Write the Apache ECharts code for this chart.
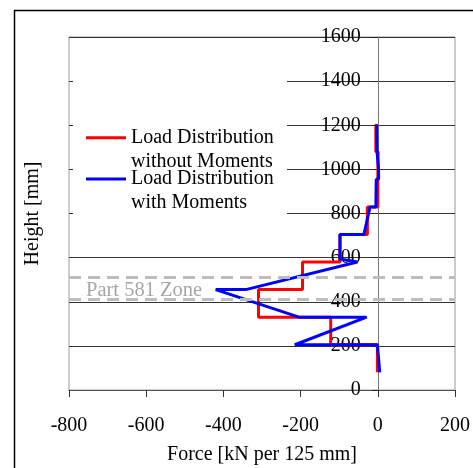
<!DOCTYPE html>
<html>
<head>
<meta charset="utf-8">
<script src="https://cdn.jsdelivr.net/npm/echarts@6/dist/echarts.min.js"></script>
<style>
  html, body { margin: 0; padding: 0; background: #fff; }
  #chart { width: 473px; height: 468px; }
</style>
</head>
<body>
<div id="chart"></div>
<script>
// Heights bounding each 125 mm load segment [mm]
const segmentEdges = [80, 205, 330, 455, 580, 705, 830, 955, 1080, 1205];
// Uniform force on each segment, without moments [kN per 125 mm]
const forceNoMoments = [-1, -122, -309, -195, -98, -27, 0, 1, -5];
// Force profile with moments: [force kN, height mm]
const forceWithMoments = [
  [5, 80], [-1, 205], [-215, 205], [-29, 330], [-204, 330], [-420, 455],
  [-342, 455], [-53, 580], [-98, 594], [-98, 705], [-36, 705], [-20, 830],
  [-5, 830], [-4, 955], [2, 955], [2, 1000], [-2, 1080], [-6, 1082], [-3, 1205]
];
// Limits of the Part 581 zone [mm]
const zoneLimits = [411, 511];
const zoneLabel = 'Part 581 Zone';
// Axis ranges and tick step
const forceRange = [-800, 200];
const heightRange = [0, 1600];
const tickStep = 200;

const seriesNames = ['Load Distribution\nwithout Moments', 'Load Distribution\nwith Moments'];
const FONT = '"Liberation Serif", "Times New Roman", serif';

// plot box in pixels
const GRID = { left: 69, right: 18, top: 37, bottom: 78 };
const CHART_W = 473;
// horizontal distance from the plot's left edge to force = 0
const zeroOffset = (CHART_W - GRID.left - GRID.right) *
  (0 - forceRange[0]) / (forceRange[1] - forceRange[0]);

// step outline: each segment is a vertical run at its force value
const stepData = [];
forceNoMoments.forEach((v, i) => {
  stepData.push([v, segmentEdges[i]]);
  stepData.push([v, segmentEdges[i + 1]]);
});

const plainNumber = v => String(v);

const chart = echarts.init(document.getElementById('chart'), null, { renderer: 'canvas' });

const legendBase = {
  orient: 'vertical',
  left: 86,
  padding: 0,
  icon: 'rect',
  itemWidth: 40,
  itemHeight: 3,
  selectedMode: false,
  z: 10,
  // blank leading line keeps the first text line level with the sample line
  formatter: name => '\n' + name,
  textStyle: { fontFamily: FONT, fontSize: 20, color: '#000', lineHeight: 24 }
};

chart.setOption({
  animation: false,
  backgroundColor: '#fff',
  grid: Object.assign({
    show: true, borderColor: '#999', borderWidth: 1,
    outerBoundsMode: 'none', containLabel: false
  }, GRID),
  legend: [
    Object.assign({}, legendBase, { data: [seriesNames[0]], top: 101.7 }),
    Object.assign({}, legendBase, { data: [seriesNames[1]], top: 143 })
  ],
  xAxis: {
    type: 'value',
    min: forceRange[0], max: forceRange[1], interval: tickStep,
    axisLine: { onZero: false, lineStyle: { color: '#555', width: 1 } },
    axisTick: { length: 7, lineStyle: { color: '#333' } },
    axisLabel: { margin: 26, fontSize: 20, lineHeight: 20, fontFamily: FONT, color: '#000', formatter: plainNumber },
    splitLine: { show: false },
    name: 'Force [kN per 125 mm]',
    nameLocation: 'middle',
    nameGap: 55,
    nameTextStyle: { fontSize: 20, lineHeight: 20, fontFamily: FONT, color: '#000' }
  },
  yAxis: [
    {
      type: 'value',
      position: 'left',
      offset: -zeroOffset,
      min: heightRange[0], max: heightRange[1], interval: tickStep,
      axisLine: { show: true, onZero: false, lineStyle: { color: '#777', width: 1 } },
      axisTick: { show: true, length: 6, lineStyle: { color: '#222' } },
      axisLabel: { margin: 17, fontSize: 20, lineHeight: 20, fontFamily: FONT, color: '#000', formatter: plainNumber },
      splitLine: { show: true, lineStyle: { color: '#333', width: 1 } }
    },
    {
      type: 'value',
      position: 'left',
      min: heightRange[0], max: heightRange[1], interval: tickStep,
      axisLine: { show: false, onZero: false },
      axisTick: { show: false },
      axisLabel: { show: false },
      splitLine: { show: false },
      name: 'Height [mm]',
      nameLocation: 'middle',
      nameGap: 26,
      nameTextStyle: { fontSize: 20, lineHeight: 20, fontFamily: FONT, color: '#000' }
    }
  ],
  series: [
    {
      name: seriesNames[0],
      type: 'line',
      yAxisIndex: 0,
      data: stepData,
      symbol: 'none',
      lineStyle: { color: '#ff0000', width: 3 },
      itemStyle: { color: '#ff0000' },
      z: 2,
      markLine: {
        silent: true,
        symbol: 'none',
        label: { show: false },
        lineStyle: { color: '#bdbdbd', width: 3, type: [12, 7] },
        data: zoneLimits.map(h => ({ yAxis: h }))
      }
    },
    {
      name: seriesNames[1],
      type: 'line',
      yAxisIndex: 0,
      data: forceWithMoments,
      symbol: 'none',
      lineStyle: { color: '#0000ff', width: 3 },
      itemStyle: { color: '#0000ff' },
      z: 3
    }
  ],
  graphic: [
    {
      // white panel behind the legend
      type: 'rect', z: 5, silent: true,
      shape: { x: 73, y: 45, width: 214, height: 190 },
      style: { fill: '#fff' }
    },
    {
      type: 'text', z: 6, silent: true,
      x: 86, y: 291,
      style: { text: zoneLabel, font: '20.5px ' + FONT, fill: '#a6a6a6', verticalAlign: 'middle' }
    },
    {
      // outer frame
      type: 'rect', z: 20, silent: true,
      shape: { x: 14.5, y: 10.5, width: 600, height: 600 },
      style: { fill: 'none', stroke: '#000', lineWidth: 1.5 }
    }
  ]
});
</script>
</body>
</html>
